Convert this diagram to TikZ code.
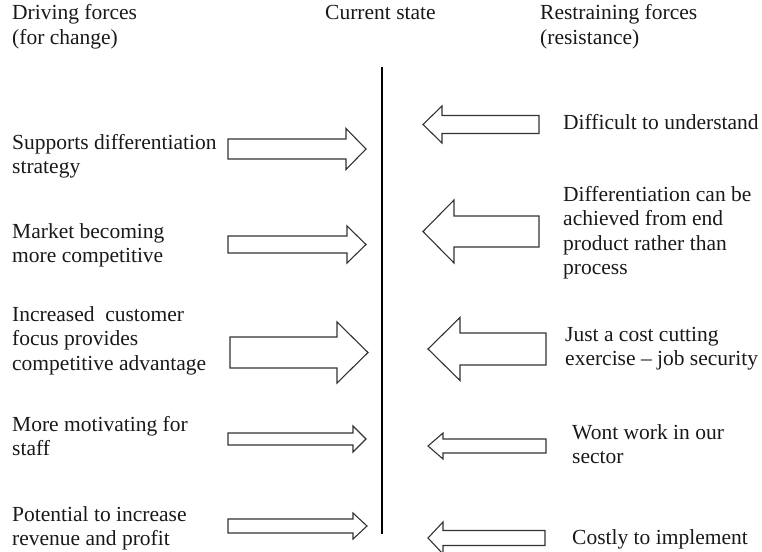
\documentclass[tikz,border=0pt]{standalone}
\usepackage{fontspec}
\setmainfont{Liberation Serif}
\newcommand\forcearrow[6]{%
  \draw[forcearrowline] ({#1},{#4-#5}) -- ({#3},{#4-#5}) -- ({#3},{#4-#6}) -- ({#2},{#4})
     -- ({#3},{#4+#6}) -- ({#3},{#4+#5}) -- ({#1},{#4+#5}) -- cycle;}
\tikzset{
  forcearrowline/.style={draw=black!80, line width=1.1pt, fill=white, line join=miter},
  label/.style={inner sep=0pt, anchor=base west, text=black!90,
    font=\fontsize{21.5}{24.5}\selectfont},
  divider/.style={line width=2.6pt, black}
}
\newcommand\lines[1]{\begin{tabular}[t]{@{}l@{}}#1\end{tabular}}
\begin{document}
\begin{tikzpicture}[x=1pt,y=-1pt]
\useasboundingbox (0,0) rectangle (762,551);
% headers
\node[label] (hdrive) at (12,20) {\lines{Driving forces\\(for change)}};
\node[label] (hstate) at (325,20) {Current state};
\node[label] (hrest) at (540,20) {\lines{Restraining forces\\(resistance)}};
% divider
\coordinate (dtop) at (382,67);
\coordinate (dbot) at (382,534);
\draw[divider] (dtop) -- (dbot);
% driving forces
\node[label] (d1) at (12,149) {\lines{Supports differentiation\\strategy}};
\node[label] (d2) at (12,238) {\lines{Market becoming\\more competitive}};
\node[label] (d3) at (12,321) {\lines{Increased\ \ customer\\focus provides\\competitive advantage}};
\node[label] (d4) at (12,431) {\lines{More motivating for\\staff}};
\node[label] (d5) at (12,521) {\lines{Potential to increase\\revenue and profit}};
% restraining forces
\node[label] (r1) at (563,129) {Difficult to understand};
\node[label] (r2) at (563,201) {\lines{Differentiation can be\\achieved from end\\product rather than\\process}};
\node[label] (r3) at (565,341) {\lines{Just a cost cutting\\exercise -- job security}};
\node[label] (r4) at (572,439) {\lines{Wont work in our\\sector}};
\node[label] (r5) at (572,544) {Costly to implement};
% arrows: tail x, tip x, head x, centre y, shaft half, head half
\forcearrow{228}{366}{346}{149}{10}{20.5}
\forcearrow{228}{366}{347}{244.5}{8.5}{18.5}
\forcearrow{230}{368}{337}{352.5}{15.5}{30.5}
\forcearrow{228}{366}{353}{439}{6}{13}
\forcearrow{228}{367}{353}{526}{7}{13}
\forcearrow{539}{423}{442}{124.5}{9}{18.5}
\forcearrow{539}{423}{454}{231.5}{15.5}{31.5}
\forcearrow{546}{428}{460}{349}{16}{31.5}
\forcearrow{546}{428}{443}{446}{7}{13}
\forcearrow{545}{428}{443}{538}{7.5}{16}
\end{tikzpicture}
\end{document}
